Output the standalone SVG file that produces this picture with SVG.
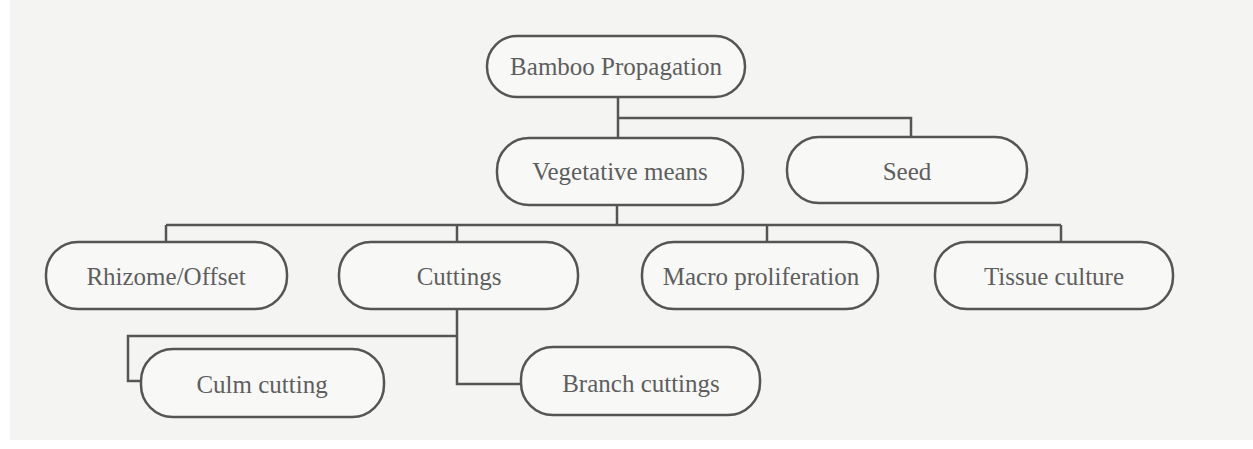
<svg xmlns="http://www.w3.org/2000/svg" width="1253" height="449" viewBox="0 0 1253 449">
<style>
.box{fill:#f8f8f6;stroke:#555;stroke-width:2.5}
.lbl{font-family:"Liberation Serif","Times New Roman",serif;font-size:25px;fill:#5e5e5e;text-anchor:middle;dominant-baseline:central}
.con{fill:none;stroke:#555;stroke-width:2.5}
</style>
<rect x="0" y="0" width="1253" height="449" fill="#ffffff"/>
<rect x="10" y="0" width="1243" height="440" fill="#f4f4f2"/>
<g id="connectors">
<path class="con" d="M618 97 V138 M618 118 H911 V137"/>
<path class="con" d="M617 205 V225 M166 225 H1061 M166 225 V243 M457 225 V243 M767 225 V243 M1061 225 V243"/>
<path class="con" d="M457 309 V384 H521 M457 336 H128 V381 H143"/>
</g>
<g id="n-bamboo"><rect class="box" x="487" y="36" width="258" height="61" rx="30"/><text class="lbl" x="616" y="66">Bamboo Propagation</text></g>
<g id="n-veg"><rect class="box" x="497" y="138" width="246" height="67" rx="32"/><text class="lbl" x="620" y="171">Vegetative means</text></g>
<g id="n-seed"><rect class="box" x="787" y="137" width="240" height="66" rx="32"/><text class="lbl" x="907" y="171">Seed</text></g>
<g id="n-rhizome"><rect class="box" x="46" y="242" width="241" height="67" rx="32"/><text class="lbl" x="166" y="276">Rhizome/Offset</text></g>
<g id="n-cuttings"><rect class="box" x="339" y="242" width="239" height="67" rx="32"/><text class="lbl" x="459" y="276">Cuttings</text></g>
<g id="n-macro"><rect class="box" x="642" y="242" width="236" height="67" rx="32"/><text class="lbl" x="761" y="276">Macro proliferation</text></g>
<g id="n-tissue"><rect class="box" x="935" y="242" width="238" height="67" rx="32"/><text class="lbl" x="1054" y="276">Tissue culture</text></g>
<g id="n-culm"><rect class="box" x="141" y="349" width="243" height="68" rx="32"/><text class="lbl" x="262" y="384">Culm cutting</text></g>
<g id="n-branch"><rect class="box" x="521" y="347" width="239" height="68" rx="32"/><text class="lbl" x="641" y="383">Branch cuttings</text></g>
</svg>
